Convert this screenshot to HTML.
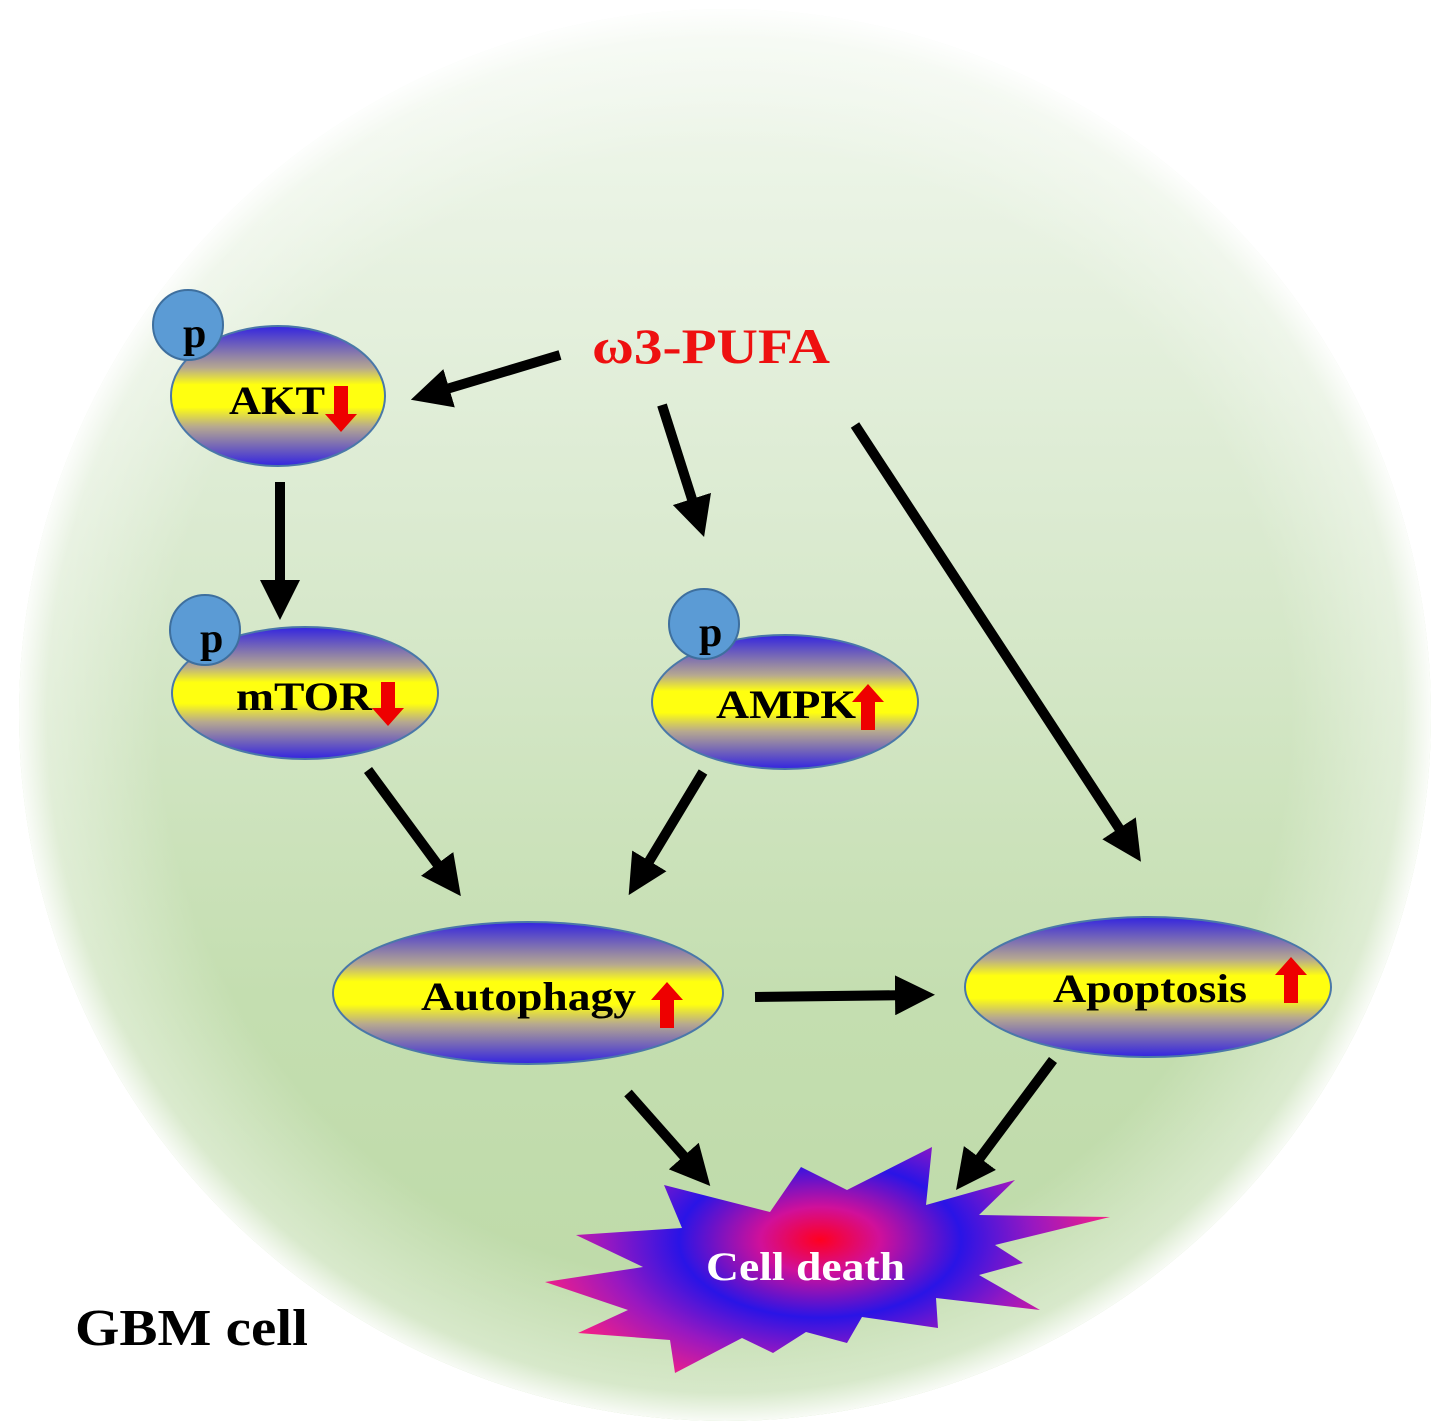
<!DOCTYPE html>
<html><head><style>body{margin:0;background:#fff}svg{display:block}</style></head><body>
<svg width="1441" height="1424" viewBox="0 0 1441 1424" xmlns="http://www.w3.org/2000/svg">
<defs>
<linearGradient id="bgl" x1="0" y1="0" x2="0" y2="1">
<stop offset="0" stop-color="#f2f8ef"/><stop offset="0.35" stop-color="#dcebd2"/><stop offset="0.7" stop-color="#c4deb0"/><stop offset="1" stop-color="#bcd9a6"/>
</linearGradient>
<radialGradient id="edge" cx="0.5" cy="0.5" r="0.5">
<stop offset="0.8" stop-color="#fff" stop-opacity="0"/><stop offset="0.96" stop-color="#fff" stop-opacity="0.4"/><stop offset="1" stop-color="#fff" stop-opacity="0.9"/>
</radialGradient>
<linearGradient id="el" x1="0" y1="0" x2="0" y2="1">
<stop offset="0" stop-color="#3324e0"/><stop offset="0.3" stop-color="#b6a890"/><stop offset="0.42" stop-color="#ffff10"/><stop offset="0.58" stop-color="#ffff10"/><stop offset="0.72" stop-color="#b6a890"/><stop offset="1" stop-color="#3324e0"/>
</linearGradient>
<radialGradient id="burst" gradientUnits="userSpaceOnUse" cx="820" cy="1240" r="300" gradientTransform="translate(820 1240) scale(1 0.55) translate(-820 -1240)">
<stop offset="0" stop-color="#ff0020"/><stop offset="0.2" stop-color="#d0109a"/><stop offset="0.47" stop-color="#2a14e6"/><stop offset="0.72" stop-color="#9a18c0"/><stop offset="1" stop-color="#ff2080"/>
</radialGradient>
<marker id="ah" markerWidth="4" markerHeight="4" refX="2" refY="2" orient="auto" markerUnits="strokeWidth"><path d="M0,0 L4,2 L0,4 z" fill="#000"/></marker>
</defs>
<circle cx="725" cy="715" r="706" fill="url(#bgl)"/>
<circle cx="725" cy="715" r="706" fill="url(#edge)"/>
<g stroke="#000" stroke-width="10" marker-end="url(#ah)">
<line x1="560" y1="355" x2="430" y2="394"/>
<line x1="662" y1="405" x2="698" y2="518"/>
<line x1="855" y1="425" x2="1130" y2="845"/>
<line x1="280" y1="482" x2="280" y2="600"/>
<line x1="368" y1="770" x2="449" y2="880"/>
<line x1="703" y1="772" x2="639" y2="878"/>
<line x1="755" y1="997" x2="915" y2="995"/>
<line x1="628" y1="1093" x2="697" y2="1171"/>
<line x1="1053" y1="1060" x2="968" y2="1174"/>
</g>
<g stroke="#4a78a8" stroke-width="2" fill="url(#el)">
<ellipse cx="278" cy="396" rx="107" ry="70"/>
<ellipse cx="305" cy="693" rx="133" ry="66"/>
<ellipse cx="785" cy="702" rx="133" ry="67"/>
<ellipse cx="528" cy="993" rx="195" ry="71"/>
<ellipse cx="1148" cy="987" rx="183" ry="70"/>
</g>
<g fill="#5b9bd5" stroke="#3e6f9e" stroke-width="2">
<circle cx="188" cy="325" r="35"/><circle cx="205" cy="630" r="35"/><circle cx="704" cy="624" r="35"/>
</g>
<g font-family="Liberation Serif, serif" font-weight="bold" fill="#000">
<text x="183" y="347" font-size="42">p</text>
<text x="200" y="652" font-size="42">p</text>
<text x="699" y="646" font-size="42">p</text>
<text x="229" y="414" font-size="40" textLength="96" lengthAdjust="spacingAndGlyphs">AKT</text>
<text x="236" y="710" font-size="40" textLength="136" lengthAdjust="spacingAndGlyphs">mTOR</text>
<text x="716" y="718" font-size="40" textLength="140" lengthAdjust="spacingAndGlyphs">AMPK</text>
<text x="421" y="1010" font-size="40" textLength="215" lengthAdjust="spacingAndGlyphs">Autophagy</text>
<text x="1053" y="1002" font-size="40" textLength="194" lengthAdjust="spacingAndGlyphs">Apoptosis</text>
<text x="75" y="1345" font-size="52" textLength="233" lengthAdjust="spacingAndGlyphs">GBM cell</text>
<text x="592" y="363" font-size="50" fill="#ee1010" textLength="238" lengthAdjust="spacingAndGlyphs">ω3-PUFA</text>
</g>
<g fill="#ee0000">
<path d="M334,386 h14 v28 h9 l-16,18 l-16,-18 h9 z"/>
<path d="M381,682 h14 v26 h9 l-16,18 l-16,-18 h9 z"/>
<path d="M861,730 h14 v-28 h9 l-16,-18 l-16,18 h9 z"/>
<path d="M660,1028 h14 v-28 h9 l-16,-18 l-16,18 h9 z"/>
<path d="M1284,1003 h14 v-28 h9 l-16,-18 l-16,18 h9 z"/>
</g>
<polygon fill="url(#burst)" points="664,1185 770,1212 801,1167 847,1190 932,1147 926,1205 1015,1180 979,1215 1110,1217 995,1245 1023,1263 979,1275 1040,1310 936,1298 938,1328 862,1317 847,1343 806,1332 773,1353 742,1338 675,1373 670,1340 578,1333 628,1310 545,1282 643,1267 576,1235 682,1228"/>
<text x="706" y="1280" font-family="Liberation Serif, serif" font-weight="bold" font-size="40" fill="#fff" textLength="199" lengthAdjust="spacingAndGlyphs">Cell death</text>
</svg>
</body></html>
